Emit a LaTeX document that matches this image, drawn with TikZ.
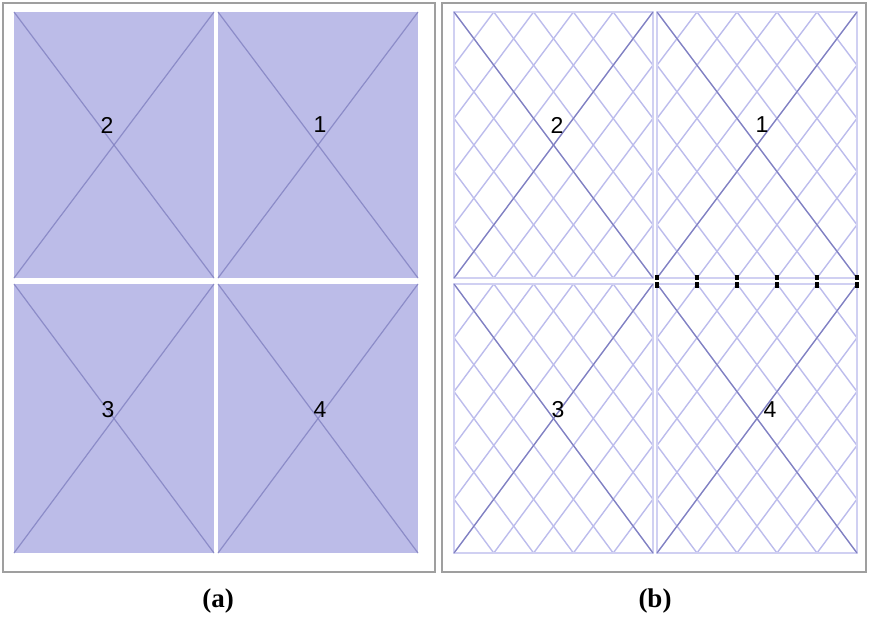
\documentclass[tikz,border=0pt]{standalone}
\usepackage{fontspec}
\setmainfont{Liberation Serif}
\setsansfont{Liberation Sans}
\definecolor{meshfill}{RGB}{188,188,232}
\definecolor{meshdark}{RGB}{128,128,192}
\definecolor{meshlight}{RGB}{188,188,236}
\definecolor{meshedge}{RGB}{208,208,242}
\tikzset{
  panelframe/.style={draw=gray!75, line width=1.2},
  quadnum/.style={font=\fontsize{11.5}{12}\sffamily, inner sep=0pt},
  panelcap/.style={font=\fontsize{13.5}{15}\selectfont\bfseries, inner sep=0pt},
  gridline/.style={draw=meshlight, line width=0.7},
  diagline/.style={draw=meshdark, line width=0.6},
}
\begin{document}
\begin{tikzpicture}[x=0.5pt, y=-0.5pt]
        \useasboundingbox (0,0) rectangle (869,618);
        \draw[panelframe] (3,3) rectangle (435,572);
        \draw[panelframe] (442,3) rectangle (866,572);
        \foreach \xa/\ya/\xb/\yb/\lab/\lx/\ly in {14/12/214/278/2/107/125, 218/12/418/278/1/320/125,
                                            14/284/214/553/3/108/410, 218/284/418/553/4/320/410} {
          \fill[meshfill] (\xa,\ya) rectangle (\xb,\yb);
          \draw[diagline, draw opacity=0.8] (\xa,\ya) -- (\xb,\yb);
          \draw[diagline, draw opacity=0.8] (\xb,\ya) -- (\xa,\yb);
          \node[quadnum] (a\lab) at (\lx,\ly) {\lab};
        }
        \foreach \xa/\ya/\xb/\yb/\lab/\lx/\ly in {454/12/653/278/2/557/125, 657/12/857/278/1/762/125,
                                            454/284/653/553/3/558/410, 657/284/857/553/4/770/410} {
          \begin{scope}
            \clip (\xa,\ya) rectangle (\xb,\yb);
            \foreach \k in {-5,...,5} {
              \draw[gridline] ({\xa+\k*(\xb-\xa)/5},\ya) -- ({\xb+\k*(\xb-\xa)/5},\yb);
              \draw[gridline] ({\xb+\k*(\xb-\xa)/5},\ya) -- ({\xa+\k*(\xb-\xa)/5},\yb);
            }
          \end{scope}
          \draw[meshedge, line width=0.7] (\xa,\ya) rectangle (\xb,\yb);
          \draw[diagline] (\xa,\ya) -- (\xb,\yb);
          \draw[diagline] (\xb,\ya) -- (\xa,\yb);
          \node[quadnum] (b\lab) at (\lx,\ly) {\lab};
        }
        \foreach \value in {657,697,737,777,817,857} {
          \fill (\value-2,274.5) rectangle (\value+2,280);
          \fill (\value-2,282) rectangle (\value+2,287.5);
        }
        \node[panelcap] (capa) at (218,601) {(a)};
        \node[panelcap] (capb) at (655,601) {(b)};
        \end{tikzpicture}
\end{document}
